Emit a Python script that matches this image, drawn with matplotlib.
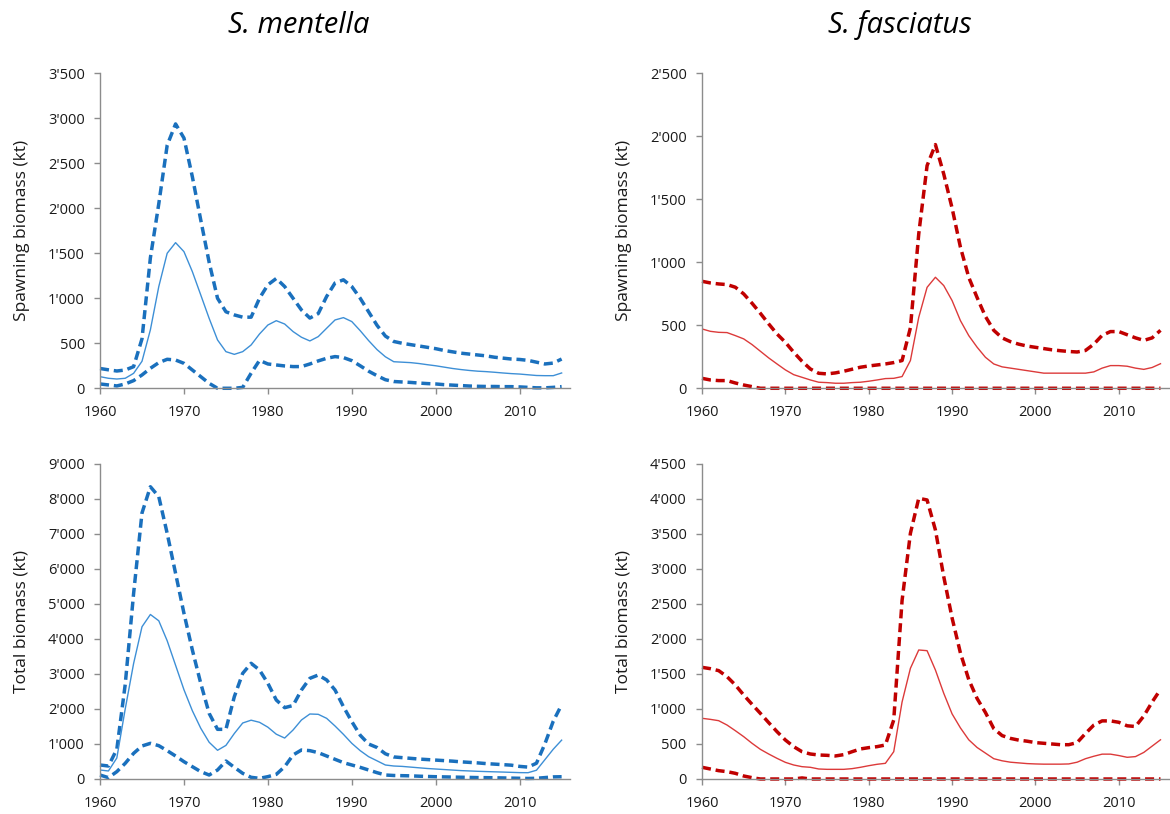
import numpy as np
import matplotlib
matplotlib.use("Agg")
import matplotlib.pyplot as plt
from matplotlib.ticker import FuncFormatter, MultipleLocator

plt.rcParams['font.family'] = ['Open Sans', 'DejaVu Sans']

years = np.arange(1960, 2016)

# S. mentella - spawning biomass (kt)
ment_ssb_hi = [220, 205, 192, 203, 240, 550, 1450, 2050, 2700, 2937,
               2780, 2350, 1870, 1400, 1000, 850, 815, 790, 790, 1000,
               1150, 1220, 1130, 1000, 870, 780, 830, 1020, 1170, 1205,
               1130, 1000, 850, 700, 580, 520, 500, 485, 470, 455,
               440, 420, 405, 390, 380, 370, 360, 345, 335, 325,
               320, 310, 290, 270, 280, 325]
ment_ssb = [129, 111, 103, 111, 166, 300, 650, 1130, 1500, 1618,
            1518, 1296, 1037, 777, 537, 407, 377, 407, 481, 603,
            703, 751, 714, 630, 567, 526, 574, 667, 759, 785,
            741, 640, 530, 430, 350, 295, 290, 285, 275, 262,
            250, 235, 220, 208, 198, 190, 185, 178, 170, 163,
            158, 150, 142, 140, 140, 170]
ment_ssb_lo = [48, 37, 26, 48, 85, 148, 222, 285, 322, 314,
               277, 203, 129, 55, 0, 0, 0, 10, 167, 310,
               270, 259, 248, 241, 241, 270, 304, 333, 352, 341,
               307, 250, 190, 140, 95, 75, 70, 65, 58, 52,
               48, 40, 35, 30, 25, 22, 20, 20, 18, 18,
               15, 10, 5, 5, 10, 18]

# S. fasciatus - spawning biomass (kt)
fasc_ssb_hi = [849, 836, 828, 823, 802, 749, 675, 595, 511, 431,
               365, 286, 214, 153, 119, 114, 122, 135, 151, 167,
               177, 185, 193, 204, 220, 480, 1225, 1767, 1934, 1700,
               1430, 1120, 880, 720, 570, 460, 400, 370, 350, 335,
               325, 315, 305, 298, 292, 288, 300, 350, 420, 450,
               450, 425, 400, 380, 400, 460]
fasc_ssb = [471, 452, 444, 442, 418, 392, 347, 294, 241, 193,
            146, 108, 87, 66, 48, 45, 40, 40, 45, 48,
            56, 66, 77, 79, 93, 220, 563, 801, 881, 815,
            696, 537, 418, 326, 246, 193, 170, 160, 150, 140,
            130, 120, 120, 120, 120, 120, 120, 130, 160, 180,
            180, 175, 160, 150, 165, 195]
fasc_ssb_lo = [79, 66, 61, 61, 42, 26, 13, 0, 0, 0,
               0, 0, 0, 0, 0, 0, 0, 0, 0, 0,
               0, 0, 0, 0, 0, 0, 0, 0, 0, 0,
               0, 0, 0, 0, 0, 0, 0, 0, 0, 0,
               0, 0, 0, 0, 0, 0, 0, 0, 0, 0,
               0, 0, 0, 0, 0, 0]

# S. mentella - total biomass (kt)
ment_tot_hi = [400, 371, 850, 2700, 5300, 7600, 8350, 8066, 7019, 5876,
               4733, 3686, 2733, 1876, 1419, 1419, 2352, 3019, 3305, 3114,
               2733, 2257, 2038, 2100, 2543, 2876, 2971, 2829, 2543, 2067,
               1640, 1250, 1000, 900, 720, 630, 610, 590, 570, 555,
               540, 525, 510, 490, 475, 460, 440, 425, 410, 395,
               360, 340, 450, 1000, 1650, 2120]
ment_tot = [257, 229, 600, 2000, 3300, 4350, 4700, 4520, 3950, 3250,
            2550, 1950, 1450, 1050, 820, 960, 1300, 1600, 1680, 1620,
            1480, 1280, 1170, 1400, 1686, 1857, 1848, 1733, 1514, 1276,
            1019, 810, 638, 520, 400, 371, 360, 340, 320, 300,
            285, 270, 255, 240, 230, 220, 212, 205, 198, 190,
            182, 180, 250, 550, 850, 1110]
ment_tot_lo = [114, 38, 210, 448, 733, 943, 1019, 952, 810, 657,
               495, 352, 210, 114, 257, 514, 333, 162, 48, 19,
               67, 133, 352, 686, 829, 810, 752, 657, 562, 467,
               400, 333, 257, 181, 114, 100, 95, 90, 80, 72,
               65, 60, 55, 50, 45, 40, 38, 35, 30, 25,
               20, 15, 20, 40, 60, 65]

# S. fasciatus - total biomass (kt)
fasc_tot_hi = [1595, 1576, 1548, 1462, 1343, 1200, 1067, 938, 805, 676,
               557, 462, 390, 357, 343, 338, 329, 348, 390, 429,
               448, 462, 486, 843, 2550, 3510, 4010, 3986, 3557, 2890,
               2300, 1800, 1420, 1150, 950, 720, 620, 580, 555, 540,
               520, 510, 500, 490, 490, 520, 650, 770, 830, 830,
               810, 760, 750, 900, 1100, 1280]
fasc_tot = [867, 852, 833, 771, 690, 605, 510, 424, 357, 295,
            238, 200, 176, 167, 143, 138, 138, 138, 148, 167,
            190, 210, 224, 390, 1100, 1581, 1843, 1833, 1557, 1224,
            930, 730, 560, 450, 370, 290, 260, 240, 230, 220,
            215, 212, 212, 212, 215, 240, 290, 325, 355, 355,
            335, 310, 320, 380, 470, 560]
fasc_tot_lo = [167, 143, 119, 105, 81, 43, 19, 0, 0, 0,
               0, 0, 15, 0, 0, 0, 0, 0, 0, 0,
               0, 0, 0, 0, 0, 0, 0, 0, 0, 0,
               0, 0, 0, 0, 0, 0, 0, 0, 0, 0,
               0, 0, 0, 0, 0, 0, 0, 0, 0, 0,
               0, 0, 0, 0, 0, 0]

species = ["S. mentella", "S. fasciatus"]
blue_dash, blue_line = "#1a70bd", "#3d8fd6"
red_dash, red_line = "#c00000", "#dc3a3a"

fig = plt.figure(figsize=(11.7, 8.14), dpi=100)

# [left, bottom, width, height] in figure fraction
panels = [
    ([0.0855, 0.523, 0.4017, 0.387], ment_ssb_lo, ment_ssb, ment_ssb_hi, blue_dash, blue_line, 3500, 500, "Spawning biomass (kt)"),
    ([0.6000, 0.523, 0.3990, 0.387], fasc_ssb_lo, fasc_ssb, fasc_ssb_hi, red_dash, red_line, 2500, 500, "Spawning biomass (kt)"),
    ([0.0855, 0.043, 0.4017, 0.387], ment_tot_lo, ment_tot, ment_tot_hi, blue_dash, blue_line, 9000, 1000, "Total biomass (kt)"),
    ([0.6000, 0.043, 0.3990, 0.387], fasc_tot_lo, fasc_tot, fasc_tot_hi, red_dash, red_line, 4500, 500, "Total biomass (kt)"),
]

fmt = FuncFormatter(lambda v, pos: f"{int(round(v)):,}".replace(",", "'"))

for rect, lo, mid, hi, cdash, cline, ymax, ystep, ylab in panels:
    ax = fig.add_axes(rect)
    ax.plot(years, hi, color=cdash, lw=2.5, dashes=(2.6, 1.4), clip_on=False)
    ax.plot(years, lo, color=cdash, lw=2.5, dashes=(2.6, 1.4), clip_on=False)
    ax.plot(years, mid, color=cline, lw=1.0)
    ax.set_xlim(1960, 2016)
    ax.set_ylim(0, ymax)
    ax.xaxis.set_major_locator(MultipleLocator(10))
    ax.yaxis.set_major_locator(MultipleLocator(ystep))
    ax.yaxis.set_major_formatter(fmt)
    for side in ("top", "right"):
        ax.spines[side].set_visible(False)
    for side in ("left", "bottom"):
        ax.spines[side].set_color("#8c8c8c")
        ax.spines[side].set_linewidth(1.0)
    ax.tick_params(direction="out", length=4, width=1.0, color="#8c8c8c",
                   labelsize=10.5, labelcolor="#1a1a1a")
    ax.tick_params(axis="y", pad=7)
    ax.tick_params(axis="x", pad=8)
    ax.set_ylabel(ylab, fontsize=12.5, color="#1a1a1a")
    ax.yaxis.set_label_coords(-0.15, 0.5)

fig.text(0.255, 0.969, species[0], ha="center", va="center", fontsize=21, style="italic")
fig.text(0.769, 0.969, species[1], ha="center", va="center", fontsize=21, style="italic")

fig.savefig("out.png", dpi=100)
